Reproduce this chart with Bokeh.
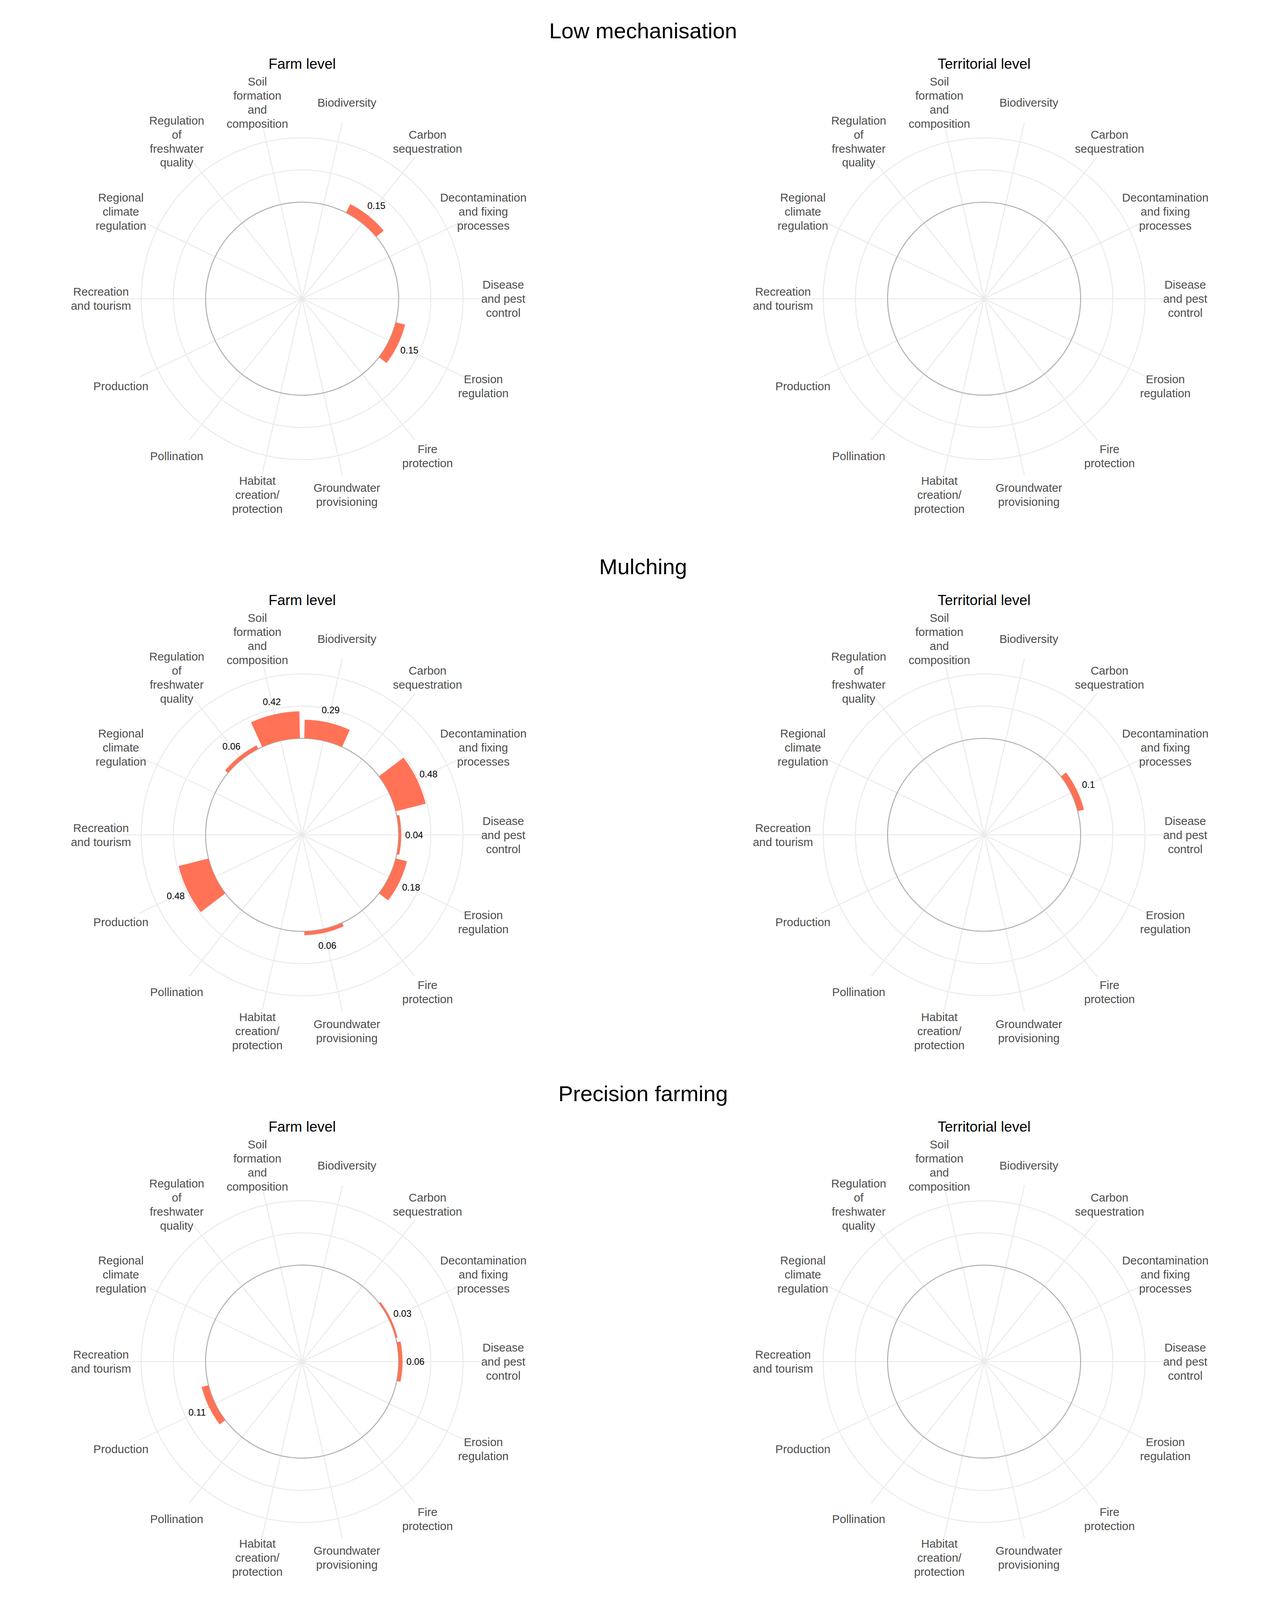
import numpy as np
from bokeh.plotting import figure
from bokeh.models import Range1d, ColumnDataSource
from bokeh.core.properties import value
from bokeh.embed import file_html
from bokeh.resources import INLINE

# ---------------- data ----------------
categories = [
    "Biodiversity", "Carbon sequestration", "Decontamination and fixing processes",
    "Disease and pest control", "Erosion regulation", "Fire protection",
    "Groundwater provisioning", "Habitat creation/protection", "Pollination",
    "Production", "Recreation and tourism", "Regional climate regulation",
    "Regulation of freshwater quality", "Soil formation and composition",
]
category_labels = [
    "Biodiversity", "Carbon\nsequestration", "Decontamination\nand fixing\nprocesses",
    "Disease\nand pest\ncontrol", "Erosion\nregulation", "Fire\nprotection",
    "Groundwater\nprovisioning", "Habitat\ncreation/\nprotection", "Pollination",
    "Production", "Recreation\nand tourism", "Regional\nclimate\nregulation",
    "Regulation\nof\nfreshwater\nquality", "Soil\nformation\nand\ncomposition",
]
practices = ["Low mechanisation", "Mulching", "Precision farming"]
levels = ["Farm level", "Territorial level"]

low_mech_farm =         [0, 0.15, 0,    0,    0.15, 0, 0,    0, 0, 0,    0, 0, 0,    0]
low_mech_territorial =  [0, 0,    0,    0,    0,    0, 0,    0, 0, 0,    0, 0, 0,    0]
mulching_farm =         [0.29, 0, 0.48, 0.04, 0.18, 0, 0.06, 0, 0, 0.48, 0, 0, 0.06, 0.42]
mulching_territorial =  [0, 0,    0.1,  0,    0,    0, 0,    0, 0, 0,    0, 0, 0,    0]
precision_farm =        [0, 0,    0.03, 0.06, 0,    0, 0,    0, 0, 0.11, 0, 0, 0,    0]
precision_territorial = [0, 0,    0,    0,    0,    0, 0,    0, 0, 0,    0, 0, 0,    0]

panel_values = [
    [low_mech_farm, low_mech_territorial],
    [mulching_farm, mulching_territorial],
    [precision_farm, precision_territorial],
]

radial_min = -1.5      # value at the centre of each polar panel
radial_max = 1.0       # value at the outer grid circle
radial_breaks = [0.5, 1.0]
label_offset = 0.2     # value labels sit this far beyond the bar end
bar_width = 0.9        # fraction of a category sector

# ---------------- layout ----------------
# reference layout measured on a 3295 x 5084 page; the page that is photographed
# here is only about 4084 px tall, so the vertical layout and the polar panels are
# scaled by S to keep every text on the page.
W_REF, H_REF = 3295, 5084
W, H = 3295, 4084
S = (H - 16) / (H_REF - 16)

K = 205.3 * S                   # pixels per radial unit
col_cx = [781, 2527]            # panel centres (x, page pixels)
row_cy_ref = [960, 2670, 4350]  # panel centres (y, reference pixels)
row_cy = [8 + (y - 8) * S for y in row_cy_ref]
title_dy = 855 * S              # main title baseline above panel centre
subtitle_dy = 749 * S           # panel title baseline above panel centre

FONT = "Liberation Sans"
BAR = "#FF7256"
GRID = "#EBEBEB"
BASE = "#B3B3B3"
LW = 3.3 * S


def ux(px):
    return px / K


def uy(py):
    return (H - py) / K


p = figure(
    width=W - 16, height=H - 16,
    x_range=Range1d(ux(8), ux(W - 8)), y_range=Range1d(uy(H - 8), uy(8)),
    x_axis_type=None, y_axis_type=None,
    toolbar_location=None, output_backend="svg", min_border=0,
)
p.grid.visible = False
p.outline_line_color = None
p.background_fill_color = "white"
p.border_fill_color = "white"

n = len(categories)
sector = 2 * np.pi / n
theta = (np.arange(n) + 0.5) * sector          # clockwise from north
r_spoke = (radial_max - radial_min) * 1.125
r_label = (radial_max - radial_min) * 1.25

for ri, practice in enumerate(practices):
    cy = uy(row_cy[ri])
    p.text(x=[ux((col_cx[0] + col_cx[1]) / 2)], y=[uy(row_cy[ri] - title_dy)], text=[practice],
           text_font=value(FONT), text_font_size=f"{70 * S:.1f}px", text_color="black",
           text_align="center", text_baseline="alphabetic")
    for ci, level in enumerate(levels):
        cx = ux(col_cx[ci])
        vals = np.array(panel_values[ri][ci], dtype=float)
        p.text(x=[cx], y=[uy(row_cy[ri] - subtitle_dy)], text=[level],
               text_font=value(FONT), text_font_size=f"{46 * S:.1f}px", text_color="black",
               text_align="center", text_baseline="alphabetic")
        # grid circles
        p.circle(x=[cx] * len(radial_breaks), y=[cy] * len(radial_breaks),
                 radius=[b - radial_min for b in radial_breaks],
                 fill_color=None, line_color=GRID, line_width=LW)
        # spokes
        p.segment(x0=[cx] * n, y0=[cy] * n,
                  x1=cx + r_spoke * np.sin(theta), y1=cy + r_spoke * np.cos(theta),
                  line_color=GRID, line_width=LW)
        # baseline (value 0)
        p.circle(x=[cx], y=[cy], radius=[0 - radial_min],
                 fill_color=None, line_color=BASE, line_width=LW)
        # bars
        nz = vals > 0
        if nz.any():
            th = theta[nz]
            v = vals[nz]
            half = bar_width * sector / 2
            src = ColumnDataSource(dict(
                x=[cx] * len(v), y=[cy] * len(v),
                inner=[0 - radial_min] * len(v), outer=(v - radial_min).tolist(),
                start=(np.pi / 2 - th - half).tolist(), end=(np.pi / 2 - th + half).tolist(),
            ))
            p.annular_wedge(x="x", y="y", inner_radius="inner", outer_radius="outer",
                            start_angle="start", end_angle="end", source=src,
                            fill_color=BAR, line_color=None)
            rl = v + label_offset - radial_min
            p.text(x=cx + rl * np.sin(th), y=cy + rl * np.cos(th),
                   text=[f"{x:g}" for x in v],
                   text_font=value(FONT), text_font_size=f"{29.5 * S:.1f}px", text_color="black",
                   text_align="center", text_baseline="middle")
        # category labels
        p.text(x=cx + r_label * np.sin(theta), y=cy + r_label * np.cos(theta),
               text=category_labels, text_font=value(FONT), text_font_size=f"{36.7 * S:.1f}px",
               text_color="#4D4D4D", text_align="center", text_baseline="middle",
               text_line_height=1.09)

open("out.html", "w").write(file_html(p, INLINE))
